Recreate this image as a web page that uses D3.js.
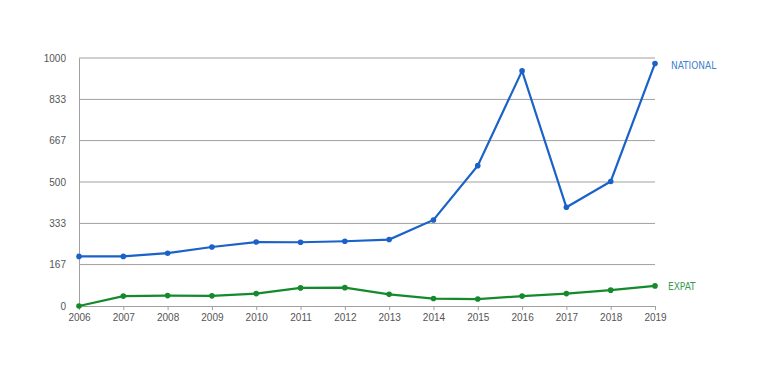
<!DOCTYPE html>
<html>
<head>
<meta charset="utf-8">
<script src="https://cdn.jsdelivr.net/npm/d3@7"></script>
<style>
    body { margin: 0; background: #fff; }
    svg text { font-family: "Liberation Sans", Arial, sans-serif; }
</style>
</head>
<body>
<div id="chart"></div>
<script>
var years = [2006, 2007, 2008, 2009, 2010, 2011, 2012, 2013, 2014, 2015, 2016, 2017, 2018, 2019];
var national = [200, 200, 213, 238, 258, 257, 261, 268, 347, 566, 948, 398, 502, 978];
var expat = [0, 40, 42, 41, 50, 73, 74, 47, 30, 28, 40, 50, 64, 81];
var yTicks = [0, 167, 333, 500, 667, 833, 1000];

var margin = { top: 58, right: 102, bottom: 86, left: 79 };
var width = 757 - margin.left - margin.right;
var height = 392 - margin.top - margin.bottom;

var svg = d3.select("#chart").append("svg")
    .attr("width", 757)
    .attr("height", 392);
var chart = svg.append("g")
    .attr("transform", "translate(" + margin.left + "," + margin.top + ")");

var x = d3.scaleLinear().domain([2006, 2019]).range([0, width]);
var y = d3.scaleLinear().domain([0, 1000]).range([height, 0]);

// grid
chart.selectAll(".grid")
    .data(yTicks.slice(1))
    .enter().append("line")
    .attr("x1", 0)
    .attr("x2", width)
    .attr("y1", function (d) { return y(d); })
    .attr("y2", function (d) { return y(d); })
    .style("stroke", "#a0a0a0")
    .style("stroke-width", 1);

// y axis
var yAxis = chart.append("g")
    .call(d3.axisLeft(y).tickValues(yTicks).tickFormat(d3.format("d")).tickSize(0).tickPadding(13));
yAxis.select(".domain").style("stroke", "#a0a0a0");
yAxis.selectAll("text").style("fill", "#555").style("font-size", "10px");

// x axis
var xAxis = chart.append("g")
    .attr("transform", "translate(0," + height + ")")
    .call(d3.axisBottom(x).tickValues(years).tickFormat(d3.format("d")).tickSize(4).tickSizeOuter(0).tickPadding(4));
xAxis.select(".domain").style("stroke", "#a0a0a0");
xAxis.selectAll(".tick line").style("stroke", "#a0a0a0");
xAxis.selectAll("text").style("fill", "#555").style("font-size", "10px");

var series = [
    { name: "NATIONAL", values: national, color: "#1a62c8", label: "#3f7fd0", dx: 16, dy: 6 },
    { name: "EXPAT", values: expat, color: "#148a2c", label: "#3a9a4e", dx: 13, dy: 4 }
];

var line = d3.line()
    .x(function (d, i) { return x(years[i]); })
    .y(function (d) { return y(d); });

series.forEach(function (s) {
    chart.append("path")
        .datum(s.values)
        .attr("d", line)
        .style("fill", "none")
        .style("stroke", s.color)
        .style("stroke-width", 2.2);

    chart.selectAll(".pt-" + s.name)
        .data(s.values)
        .enter().append("circle")
        .attr("cx", function (d, i) { return x(years[i]); })
        .attr("cy", function (d) { return y(d); })
        .attr("r", 2.8)
        .style("fill", s.color);

    chart.append("text")
        .text(s.name)
        .attr("x", width + s.dx)
        .attr("y", y(s.values[s.values.length - 1]) + s.dy)
        .style("fill", s.label)
        .style("font-family", "'DejaVu Sans Condensed', 'DejaVu Sans', sans-serif")
        .style("font-stretch", "condensed")
        .style("font-size", "10px");
});
</script>
</body>
</html>
